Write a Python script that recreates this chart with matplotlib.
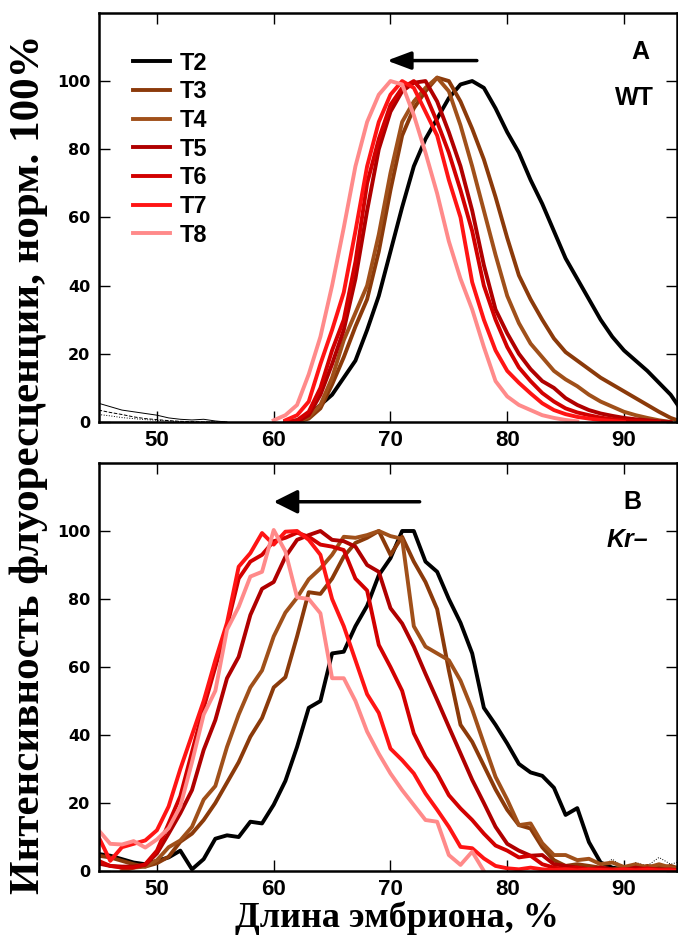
import numpy as np
import matplotlib
matplotlib.use("Agg")
import matplotlib.pyplot as plt

nan = np.nan

# ---- panel A (WT), x = 60..95 ----
xa = np.arange(60, 96)
a_t2 = [nan, 0, 0.5, 2, 5, 8, 13, 18, 27, 37, 50, 63, 75, 83, 89, 95, 99, 100, 98, 92,
        85, 79, 71, 64, 56, 48, 42, 36, 30, 25, 21, 18, 15, 11.5, 8, 3]
a_t3 = [nan, nan, 0, 1, 4, 11, 19, 28, 36, 50, 68, 84, 92, 97, 101, 100, 94, 86, 77, 66,
        54, 43, 36, 30, 24.5, 20.5, 18, 15.5, 13, 11, 9, 7, 5, 3, 1.2, 0]
a_t4 = [nan, nan, 0, 1.5, 5, 13, 24, 32, 40, 55, 73, 88, 94, 98, 101, 97, 87, 75, 62, 49,
        37, 29, 23, 19, 15, 12.5, 10.5, 8, 6, 4.5, 3, 2, 1.2, 0.5, 0, nan]
a_t5 = [nan, nan, 0, 2, 8, 17, 27, 42, 62, 80, 91, 97, 99.5, 100, 94, 85, 75, 62, 46, 33,
        26, 20, 15.5, 12, 10, 7, 5, 3.5, 2.5, 1.8, 1.2, 0.8, 0.5, 0.2, 0, nan]
a_t6 = [nan, 0, 0.5, 3, 10, 21, 30, 47, 70, 83, 93, 98, 100, 96, 88, 79, 68, 56, 40, 30,
        22, 16, 12, 8.5, 6, 4, 2.8, 2, 1.3, 0.8, 0.5, 0.3, 0.1, 0, nan, nan]
a_t7 = [nan, 0.5, 2, 6, 17, 27, 38, 56, 75, 88, 96, 100, 98, 91, 84, 71, 60, 41, 30, 21,
        15, 11.5, 8.4, 5.5, 3.5, 2.3, 1.5, 1, 0.6, 0.3, 0, nan, nan, nan, nan, nan]
a_t8 = [0.5, 2, 5, 14, 25, 40, 57, 75, 88, 96, 100, 99, 90, 79, 67, 53, 42, 33, 22, 12,
        7.5, 5, 3.5, 2, 1.2, 0.6, 0.2, nan, nan, nan, nan, nan, nan, nan, nan, nan]
# faint background traces at the left of panel A
xa_bg = np.arange(45, 57)
a_bg1 = [5.5, 4.5, 3.5, 3, 2.5, 2, 1.2, 0.8, 0.6, 0.8, 0.3, 0]
a_bg2 = [3.5, 2.8, 2.2, 1.5, 1, 0.7, 0.4, 0.2, 0.1, 0, 0, 0]
a_bg3 = [2.2, 1.8, 1.3, 1, 0.7, 0.5, 0.3, 0.1, 0, 0, 0, 0]

# ---- panel B (Kr-), x = 45..95 ----
xb = np.arange(45, 96)
b_t2 = [5, 4.5, 3.5, 2.5, 2, 3, 4, 6, 0.5, 3.5, 9.5, 10.5, 10, 14.5, 14, 19.5, 26.5, 36.5,
        48, 50, 64, 64.5, 72, 78, 87, 92, 100, 100, 91, 88, 80, 73, 64, 48, 43, 37.5, 31.5,
        29, 28, 24.5, 16.5, 18.5, 8.5, 2.5, 1, 0.5, 1, 0.5, 1, 0.5, 0.5]
b_t3 = [4.5, 4, 3, 2, 1.3, 2.3, 4.2, 8.6, 11, 15, 20, 26, 32, 39.5, 45, 54, 57, 69, 82,
        81.5, 86, 92.5, 96.5, 98, 100, 93, 98.3, 91, 85, 77, 59, 43, 38, 31, 24, 18, 13.5,
        12.5, 7, 3.2, 1.5, 2, 1.5, 1, 0.5, 1, 0.8, 1.5, 1, 1.5, 0.5]
b_t4 = [nan, nan, 0, 1, 1.3, 3.2, 7, 9, 13, 21, 25, 36.5, 46, 54, 59, 69, 76, 80.4, 85.8,
        89, 93, 98.3, 98, 98.8, 100, 98.5, 97.7, 72, 66, 64, 62, 56, 47.5, 37.5, 27.7, 21,
        13.5, 14, 8.2, 4.7, 4.7, 3.2, 3.6, 2, 2.5, 1.2, 2, 1, 2, 1, 0.5]
b_t5 = [2.2, 1.5, 1.3, 1.3, 1.8, 5.2, 11, 17, 23.8, 35.6, 44.4, 56.7, 63, 75.3, 83, 85,
        92.4, 97.4, 98.8, 100, 97.4, 97, 95.4, 90, 88, 77.3, 72.8, 66, 58, 50.3, 42.4,
        34.6, 26.8, 20, 13, 8, 6, 4.5, 4.7, 2, 1.5, 1, 0.5, 1, 0.5, 0.3, 1, 0.5, 0.5, 0.3, 0]
b_t6 = [3, 1.5, 1, 1, 2, 6, 14, 22, 35, 48, 60, 72, 86, 91, 93, 97, 98, 99.5, 98.3, 96,
        95.4, 94.4, 86, 82.5, 66.5, 60, 53, 40.5, 33.6, 28.7, 22.3, 18.4, 15, 11, 7.5, 6, 4,
        4.5, 2, 1, 0.5, 1, 0.3, 0.5, 0.2, 0.5, 0.3, 0.8, 0.3, 0.5, 0]
b_t7 = [10, 3, 7, 8, 9, 12, 19, 30, 40, 50, 62, 73, 89.5, 93.5, 99.4, 96, 99.8, 100, 97.4,
        93, 80, 72, 62, 52, 46.5, 36, 32.6, 28.7, 22.8, 18, 13, 7.1, 6.7, 3.7, 1.5, 0.8,
        0.5, 1, 0.5, 0.3, 0.5, 0.2, 0.5, 0.3, 0.2, 0.5, 0.2, 0.4, 0.2, 0.2, 0]
b_t8 = [12, 8, 7.8, 8.8, 6.9, 9.3, 12.6, 19, 32, 46, 53, 71, 77.7, 86.6, 88, 100.3, 94,
        80.5, 80, 75.8, 56.7, 56.7, 50, 41, 34.5, 28.7, 23.8, 19.4, 15, 14.5, 4.7, 1.8,
        5.7, 0, nan, nan, nan, nan, nan, nan, nan, nan, nan, nan, nan, nan, nan, nan, nan,
        nan, nan]
xb_bg = np.arange(88, 96)
b_bg = [1, 3.5, 1, 2.5, 1.5, 4, 2, 3]

labels = ["T2", "T3", "T4", "T5", "T6", "T7", "T8"]
colors = ["#000000", "#8B3A0A", "#A0501A", "#B00000", "#D20000", "#FF1414", "#FF8A8A"]
series_a = [a_t2, a_t3, a_t4, a_t5, a_t6, a_t7, a_t8]
series_b = [b_t2, b_t3, b_t4, b_t5, b_t6, b_t7, b_t8]

fig = plt.figure(figsize=(6.78, 9.38), dpi=100)
ax1 = fig.add_axes([0.1454, 0.5501, 0.8524, 0.4362])
ax2 = fig.add_axes([0.1454, 0.0714, 0.8524, 0.4350])

lw = 2.8
for ax in (ax1, ax2):
    ax.set_xlim(45, 94.5)
    ax.set_ylim(0, 120)
    ax.set_xticks([50, 60, 70, 80, 90])
    ax.set_yticks([0, 20, 40, 60, 80, 100])
    ax.tick_params(direction="in", top=True, right=True, length=8, width=1,
                   pad=6)
    for s in ax.spines.values():
        s.set_linewidth(1.8)
    for t in ax.get_xticklabels():
        t.set_fontfamily("Liberation Sans")
        t.set_fontweight("bold")
        t.set_fontsize(16)
    for t in ax.get_yticklabels():
        t.set_fontfamily("DejaVu Sans")
        t.set_fontweight("bold")
        t.set_fontsize(11.5)

# panel A
ax1.plot(xa_bg, a_bg1, color="k", lw=0.7)
ax1.plot(xa_bg, a_bg2, color="k", lw=0.7, ls="--")
ax1.plot(xa_bg, a_bg3, color="k", lw=0.7, ls=":")
handles = []
for y, c, lab in zip(series_a, colors, labels):
    h, = ax1.plot(xa, y, color=c, lw=lw, label=lab)
    handles.append(h)
ax1.legend(handles=handles, loc="upper left", bbox_to_anchor=(0.0595, 0.905),
           frameon=False, borderpad=0, borderaxespad=0, handlelength=1.55,
           handletextpad=0.45, labelspacing=0.24,
           prop={"family": "Liberation Sans", "weight": "bold", "size": 17})
ax1.annotate("", xy=(69.7, 106), xytext=(77.4, 106),
             arrowprops=dict(arrowstyle="-|>,head_length=0.72,head_width=0.27",
                             color="k", lw=2.5, mutation_scale=20,
                             shrinkA=0, shrinkB=0))
ax1.text(91.4, 108.5, "A", ha="center", va="center", fontsize=18,
         fontweight="bold", family="Liberation Sans")
ax1.text(90.9, 95, "WT", ha="center", va="center", fontsize=18,
         fontweight="bold", family="Liberation Sans")

# panel B
ax2.plot(xb_bg, b_bg, color="k", lw=0.7, ls=":")
for y, c in zip(series_b, colors):
    ax2.plot(xb, y, color=c, lw=lw)
ax2.annotate("", xy=(60, 108.6), xytext=(72.5, 108.6),
             arrowprops=dict(arrowstyle="-|>,head_length=0.72,head_width=0.36",
                             color="k", lw=2.5, mutation_scale=20,
                             shrinkA=0, shrinkB=0))
ax2.text(90.7, 108.6, "B", ha="center", va="center", fontsize=18,
         fontweight="bold", family="Liberation Sans")
ax2.text(90.3, 97.4, "Kr\u2013", ha="center", va="center", fontsize=18,
         fontweight="bold", style="italic", family="Liberation Sans")

fig.text(0.042, 0.505, "Интенсивность флуоресценции, норм. 100%", rotation=90,
         ha="center", va="center", fontsize=31, fontweight="bold",
         family="Liberation Serif")
fig.text(0.585, 0.021, "Длина эмбриона, %", ha="center", va="center",
         fontsize=26, fontweight="bold", family="Liberation Serif")

fig.savefig("out.png", dpi=100)
